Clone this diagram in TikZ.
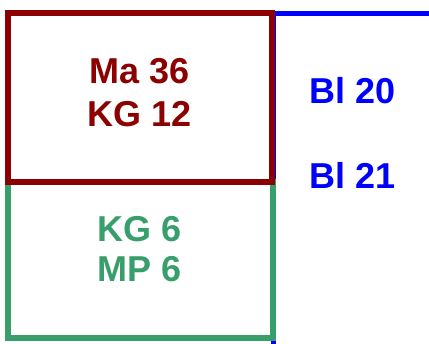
\documentclass[tikz,border=0pt]{standalone}
\usepackage{fontspec}
\setmainfont{Liberation Sans}
\definecolor{boxred}{RGB}{139,0,0}
\definecolor{boxgreen}{RGB}{56,158,108}
\definecolor{lineblue}{RGB}{0,0,255}
\begin{document}
\begin{tikzpicture}[x=1pt,y=-1pt,
  frame/.style={draw,line width=6pt,rectangle,inner sep=0pt},
  lbl/.style={font=\fontsize{36}{36}\selectfont\bfseries,anchor=base,inner sep=0pt}]
\useasboundingbox (0,0) rectangle (429,344);
% blue line
\coordinate (b1) at (429,13.5);
\coordinate (b2) at (273,13.5);
\coordinate (b3) at (273,344);
\draw[lineblue,line width=5pt] (b1) -- (b2) -- (b3);
% boxes
\node[frame,boxgreen,minimum width=265pt,minimum height=156pt] (green) at (140.5,260) {};
\node[frame,boxred,minimum width=264pt,minimum height=169pt] (red) at (140,97.5) {};
% texts
\node[lbl,text=boxred] (ma) at (140,84) {Ma 36};
\node[lbl,text=boxred] (kg1) at (140,127) {KG 12};
\node[lbl,text=boxgreen] (kg2) at (140,242) {KG 6};
\node[lbl,text=boxgreen] (mp) at (140,282) {MP 6};
\node[lbl,text=lineblue] (bl1) at (353,104) {Bl 20};
\node[lbl,text=lineblue] (bl2) at (353,189) {Bl 21};
\end{tikzpicture}
\end{document}
